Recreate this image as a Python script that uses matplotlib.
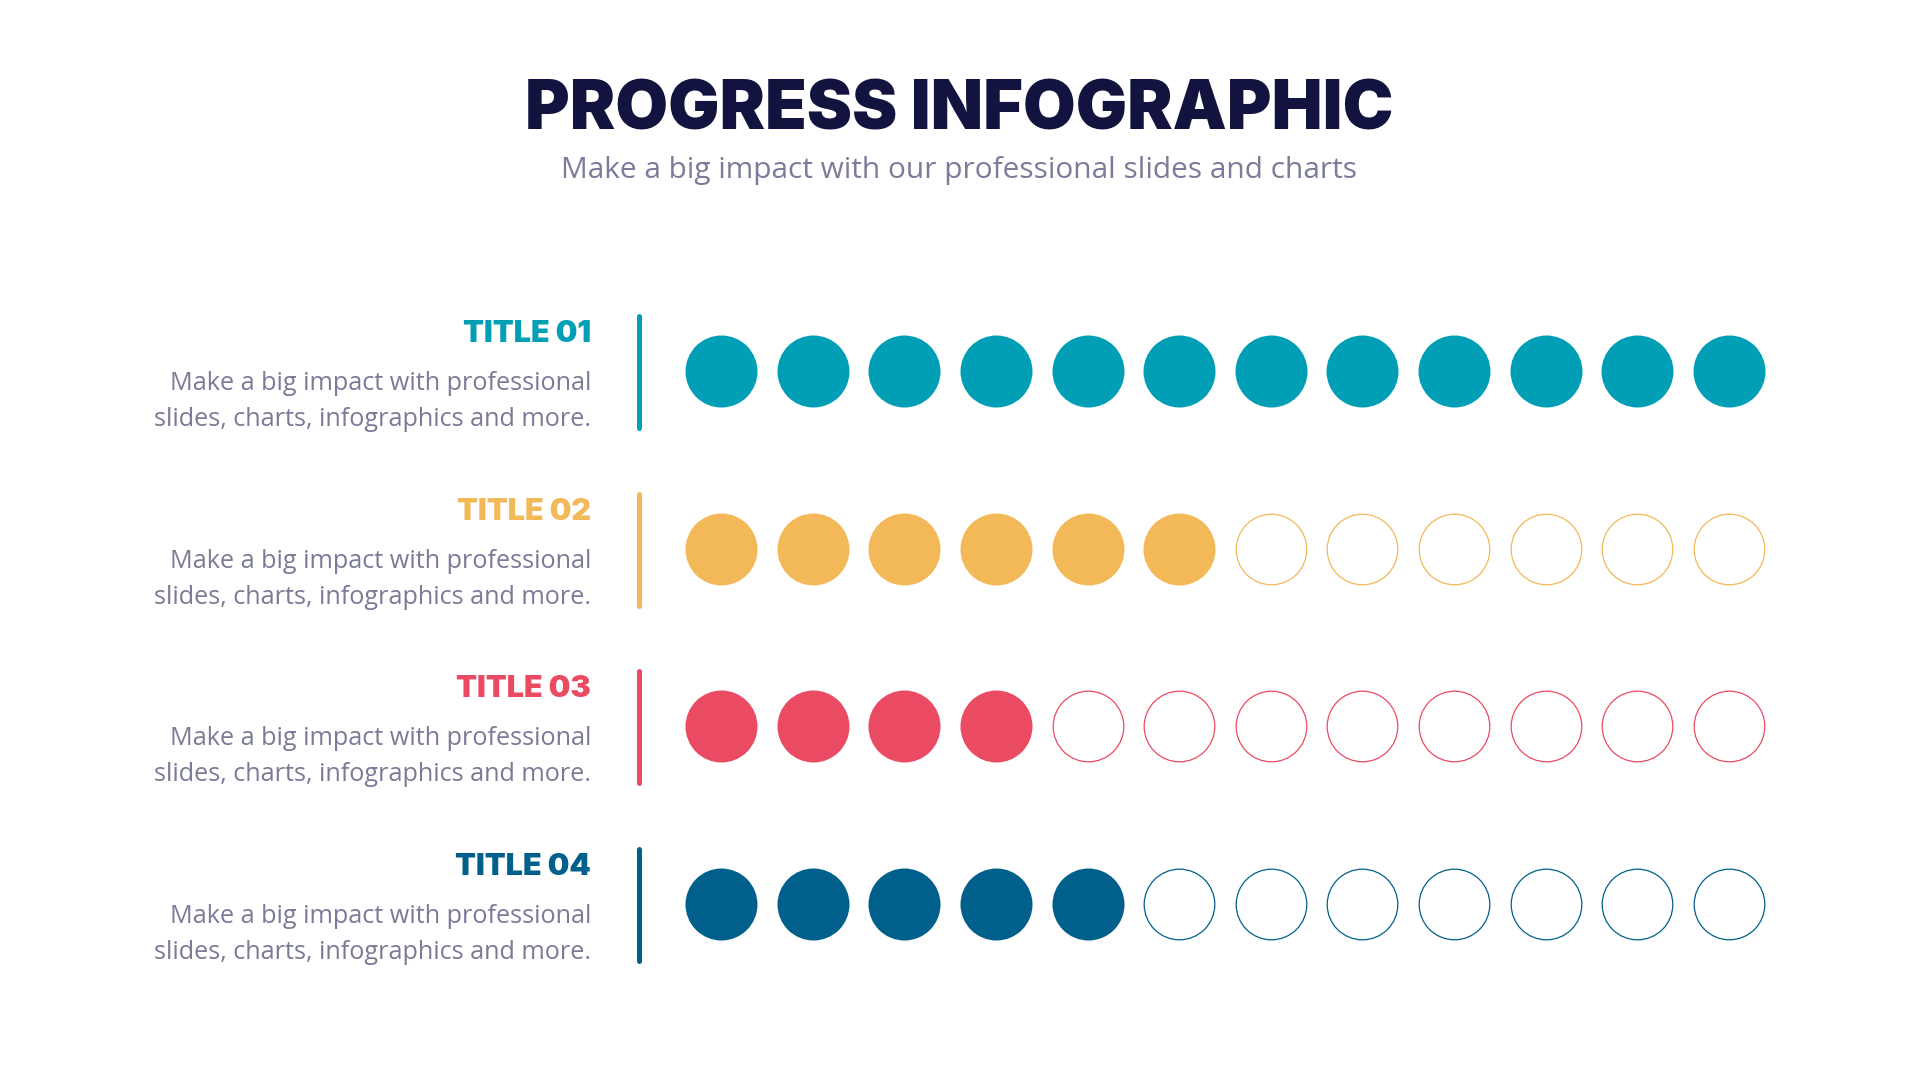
import matplotlib
matplotlib.use("Agg")
import matplotlib.pyplot as plt
from matplotlib.lines import Line2D

# ---- data ----
titles = ["TITLE 01", "TITLE 02", "TITLE 03", "TITLE 04"]
filled = [12, 6, 4, 5]
total = 12
colors = ["#019FB6", "#F3B857", "#EA4A62", "#01608B"]
desc_lines = ["Make a big impact with professional",
              "slides, charts, infographics and more."]
main_title = "PROGRESS INFOGRAPHIC"
subtitle = "Make a big impact with our professional slides and charts"

W, H = 1920, 1080
fig = plt.figure(figsize=(19.2, 10.8), dpi=100)
fig.patch.set_facecolor("white")

def fx(x):
    return x / W

def fy(y):
    return 1 - y / H

TITLE_FONT = ["Inter", "DejaVu Sans"]
BODY_FONT = ["Open Sans", "DejaVu Sans"]

fig.text(fx(959), fy(130), main_title, ha="center", va="baseline",
         fontsize=49, fontweight="black", color="#12143F", family=TITLE_FONT)
fig.text(fx(959), fy(178), subtitle, ha="center", va="baseline",
         fontsize=21.5, fontweight="normal", color="#7B7C99", family=BODY_FONT)

row_y = [371, 548.6, 726.2, 903.8]
for i, (t, c) in enumerate(zip(titles, colors)):
    y = row_y[i]
    fig.text(fx(591), fy(y - 29), t, ha="right", va="baseline",
             fontsize=22, fontweight="black", color=c, family=TITLE_FONT)
    for j, line in enumerate(desc_lines):
        fig.text(fx(591), fy(y + 19 + 36 * j), line, ha="right", va="baseline",
                 fontsize=18.2, color="#7A7B97", family=BODY_FONT)
    fig.add_artist(Line2D([fx(639), fx(639)], [fy(y - 55), fy(y + 57)],
                          color=c, lw=3.6, solid_capstyle="round",
                          transform=fig.transFigure))

# ---- dots axis ----
x0, x1 = 721 - 45.8, 1729 + 45.8
y0, y1 = 371 - 88.8, 903.8 + 88.8
ax = fig.add_axes([fx(x0), fy(y1), (x1 - x0) / W, (y1 - y0) / H])
ax.set_xlim(-0.5, total - 0.5)
ax.set_ylim(len(titles) - 0.5, -0.5)
ax.axis("off")

diam_pt = 72 * 72 / 100
for i, (n, c) in enumerate(zip(filled, colors)):
    xs_f = list(range(n))
    xs_e = list(range(n, total))
    ax.scatter(xs_f, [i] * len(xs_f), s=diam_pt ** 2, color=c, linewidths=0)
    ax.scatter(xs_e, [i] * len(xs_e), s=(diam_pt - 1) ** 2, facecolor="white",
               edgecolor=c, linewidths=0.9)

fig.savefig("out.png", dpi=100, facecolor="white")
